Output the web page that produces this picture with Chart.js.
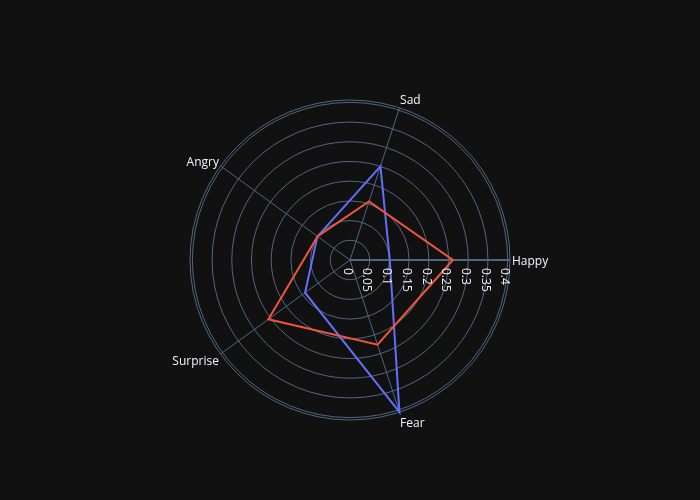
<!DOCTYPE html>
<html>
<head>
<meta charset="utf-8">
<style>
html,body{margin:0;padding:0;background:#111111;}
#wrap{width:700px;height:500px;}
</style>
<script src="https://cdn.jsdelivr.net/npm/chart.js@4.4.0/dist/chart.umd.min.js"></script>
</head>
<body>
<div id="wrap"><canvas id="c" width="700" height="500"></canvas></div>
<script>
// Categories in clockwise order starting from the right (Plotly draws them counter-clockwise)
const categories = ['Happy', 'Fear', 'Surprise', 'Angry', 'Sad'];
const seriesBlue = [0.101, 0.406, 0.141, 0.102, 0.250];
const seriesRed  = [0.261, 0.226, 0.256, 0.102, 0.156];
const tickValues = [0, 0.05, 0.1, 0.15, 0.2, 0.25, 0.3, 0.35, 0.4];
const tickLabels = ['0', '0.05', '0.1', '0.15', '0.2', '0.25', '0.3', '0.35', '0.4'];
const rMax = Math.max(...seriesBlue, ...seriesRed);

const GRID = '#506784';
const TEXT = '#f2f5fa';
const FONT = '"Open Sans", "Liberation Sans", Arial, sans-serif';

const bgPlugin = {
  id: 'bg',
  beforeDraw(chart) {
    const ctx = chart.ctx;
    ctx.save();
    ctx.fillStyle = '#111111';
    ctx.fillRect(0, 0, chart.width, chart.height);
    ctx.restore();
  }
};

const radialLabels = {
  id: 'radialLabels',
  afterDatasetsDraw(chart) {
    const s = chart.scales.r;
    const ctx = chart.ctx;
    ctx.save();
    ctx.font = '12px ' + FONT;
    ctx.fillStyle = TEXT;
    ctx.textAlign = 'left';
    ctx.textBaseline = 'alphabetic';
    tickValues.forEach((v, i) => {
      const d = s.getDistanceFromCenterForValue(v);
      ctx.save();
      ctx.translate(s.xCenter + d - 6.3, s.yCenter + 8);
      ctx.rotate(Math.PI / 2);
      ctx.fillText(tickLabels[i], 0, 0);
      ctx.restore();
    });
    ctx.restore();
  }
};

const angularLabels = {
  id: 'angularLabels',
  afterDraw(chart) {
    const s = chart.scales.r;
    const ctx = chart.ctx;
    const R = s.drawingArea + 2;
    ctx.save();
    ctx.font = '12px ' + FONT;
    ctx.fillStyle = TEXT;
    ctx.textBaseline = 'middle';
    categories.forEach((lab, i) => {
      const p = s.getPointPosition(i, R);
      const c = (p.x - s.xCenter) / R;
      const sn = (p.y - s.yCenter) / R;
      ctx.textAlign = c > 0.1 ? 'left' : (c < -0.1 ? 'right' : 'center');
      ctx.fillText(lab, p.x, p.y + 1.9 + 7.7 * sn);
    });
    ctx.restore();
  }
};

new Chart(document.getElementById('c'), {
  type: 'radar',
  data: {
    labels: categories,
    datasets: [
      {
        data: seriesBlue,
        borderColor: '#636efa',
        backgroundColor: 'rgba(0,0,0,0)',
        borderWidth: 2,
        pointRadius: 0,
        pointHoverRadius: 0,
        fill: false,
        order: 2
      },
      {
        data: seriesRed,
        borderColor: '#EF553B',
        backgroundColor: 'rgba(0,0,0,0)',
        borderWidth: 2,
        pointRadius: 0,
        pointHoverRadius: 0,
        fill: false,
        order: 1
      }
    ]
  },
  options: {
    responsive: false,
    devicePixelRatio: 1,
    animation: false,
    layout: { padding: { left: 190, right: 190, top: 100, bottom: 80 } },
    plugins: { legend: { display: false }, tooltip: { enabled: false } },
    events: [],
    scales: {
      r: {
        min: 0,
        max: rMax,
        startAngle: 90,
        afterBuildTicks(scale) {
          scale.ticks = tickValues.concat([rMax]).map(v => ({ value: v }));
        },
        ticks: { display: false },
        pointLabels: { display: false },
        grid: { circular: true, color: GRID, lineWidth: 1 },
        angleLines: {
          display: true,
          color: GRID,
          lineWidth: ctx => (ctx.index === 0 ? 2 : 1)
        }
      }
    }
  },
  plugins: [bgPlugin, radialLabels, angularLabels]
});
</script>
</body>
</html>
